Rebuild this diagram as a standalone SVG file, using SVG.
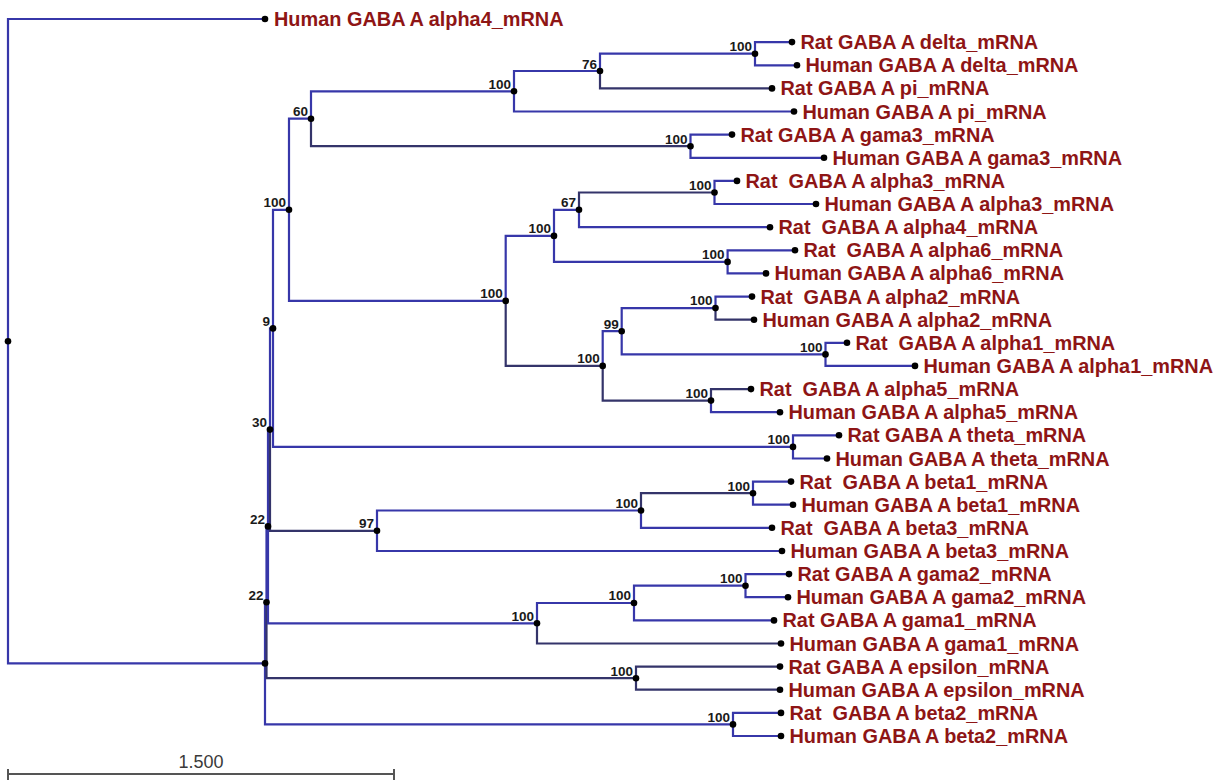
<svg xmlns="http://www.w3.org/2000/svg" width="1220" height="781" viewBox="0 0 1220 781">
<style>
.e{fill:none;stroke:#3737a9;stroke-width:2.2}
.d{fill:none;stroke:#34346a;stroke-width:2.2}
.dot{fill:#000}
.lf{font-family:"Liberation Sans",Arial,sans-serif;font-weight:bold;font-size:19.9px;fill:#8e1515;white-space:pre}
.bs{font-family:"Liberation Sans",Arial,sans-serif;font-weight:bold;font-size:13.5px;fill:#1a1a1a;text-anchor:end}
.sc{font-family:"Liberation Sans",Arial,sans-serif;font-size:18px;fill:#3a3a3a;text-anchor:middle}
</style>
<rect width="1220" height="781" fill="#fff"/>
<g id="connectors">
<path class="e" d="M8 341.2 V19 H265"/>
<path class="e" d="M8 341.2 V663.4 H265"/>
<path class="e" d="M265 663.4 V602.3 H266.5"/>
<path class="e" d="M265 663.4 V724.4 H733"/>
<path class="e" d="M266.5 602.3 V526.4 H268"/>
<path class="d" d="M266.5 602.3 V678.2 H636"/>
<path class="e" d="M268 526.4 V429.6 H270"/>
<path class="e" d="M268 526.4 V623.3 H537"/>
<path class="e" d="M270 429.6 V328.4 H273"/>
<path class="d" d="M270 429.6 V530.8 H377"/>
<path class="e" d="M273 328.4 V209.8 H289"/>
<path class="e" d="M273 328.4 V446.9 H793"/>
<path class="e" d="M289 209.8 V118.7 H311"/>
<path class="e" d="M289 209.8 V300.9 H505.7"/>
<path class="e" d="M311 118.7 V91.3 H514"/>
<path class="d" d="M311 118.7 V146.2 H690.5"/>
<path class="e" d="M514 91.3 V71 H600"/>
<path class="e" d="M514 91.3 V111.5 H794"/>
<path class="e" d="M600 71 V53.7 H755"/>
<path class="d" d="M600 71 V88.4 H772"/>
<path class="e" d="M755 53.7 V42.1 H792"/>
<path class="e" d="M755 53.7 V65.3 H797"/>
<path class="e" d="M690.5 146.2 V134.6 H732"/>
<path class="e" d="M690.5 146.2 V157.8 H824"/>
<path class="e" d="M505.7 300.9 V235.9 H554"/>
<path class="d" d="M505.7 300.9 V365.9 H602.7"/>
<path class="e" d="M554 235.9 V209.8 H579"/>
<path class="e" d="M554 235.9 V261.9 H727.6"/>
<path class="d" d="M579 209.8 V192.5 H714.5"/>
<path class="e" d="M579 209.8 V227.2 H770"/>
<path class="e" d="M714.5 192.5 V180.9 H737"/>
<path class="e" d="M714.5 192.5 V204 H816"/>
<path class="e" d="M727.6 261.9 V250.3 H795"/>
<path class="e" d="M727.6 261.9 V273.4 H766"/>
<path class="e" d="M602.7 365.9 V331.2 H621.7"/>
<path class="d" d="M602.7 365.9 V400.6 H711"/>
<path class="e" d="M621.7 331.2 V308.1 H715.5"/>
<path class="e" d="M621.7 331.2 V354.4 H825.5"/>
<path class="e" d="M715.5 308.1 V296.6 H752"/>
<path class="d" d="M715.5 308.1 V319.7 H754"/>
<path class="e" d="M825.5 354.4 V342.8 H847"/>
<path class="e" d="M825.5 354.4 V365.9 H915"/>
<path class="d" d="M711 400.6 V389.1 H751"/>
<path class="e" d="M711 400.6 V412.2 H780"/>
<path class="e" d="M793 446.9 V435.3 H839"/>
<path class="e" d="M793 446.9 V458.5 H827"/>
<path class="e" d="M377 530.8 V510.5 H641"/>
<path class="e" d="M377 530.8 V551 H782"/>
<path class="d" d="M641 510.5 V493.2 H753"/>
<path class="e" d="M641 510.5 V527.8 H772"/>
<path class="e" d="M753 493.2 V481.6 H791"/>
<path class="e" d="M753 493.2 V504.7 H793"/>
<path class="e" d="M537 623.3 V603 H634"/>
<path class="d" d="M537 623.3 V643.5 H781"/>
<path class="e" d="M634 603 V585.7 H745.5"/>
<path class="e" d="M634 603 V620.4 H774"/>
<path class="e" d="M745.5 585.7 V574.1 H789"/>
<path class="e" d="M745.5 585.7 V597.2 H788"/>
<path class="d" d="M636 678.2 V666.6 H780"/>
<path class="d" d="M636 678.2 V689.7 H780"/>
<path class="e" d="M733 724.4 V712.9 H781"/>
<path class="e" d="M733 724.4 V736 H781"/>
</g>
<g id="internal-nodes">
<g id="root"><circle class="dot" cx="8" cy="341.2" r="3.3"/></g>
<g id="nX"><circle class="dot" cx="265" cy="663.4" r="3.3"/></g>
<g id="n22b"><circle class="dot" cx="266.5" cy="602.3" r="3.3"/><text class="bs" x="263.5" y="599.5">22</text></g>
<g id="n22a"><circle class="dot" cx="268" cy="526.4" r="3.3"/><text class="bs" x="265" y="523.5">22</text></g>
<g id="n30"><circle class="dot" cx="270" cy="429.6" r="3.3"/><text class="bs" x="267" y="426.5">30</text></g>
<g id="n9"><circle class="dot" cx="273" cy="328.4" r="3.3"/><text class="bs" x="270" y="325.5">9</text></g>
<g id="nUp"><circle class="dot" cx="289" cy="209.8" r="3.3"/><text class="bs" x="286" y="207">100</text></g>
<g id="n60"><circle class="dot" cx="311" cy="118.7" r="3.3"/><text class="bs" x="308" y="116">60</text></g>
<g id="nPi"><circle class="dot" cx="514" cy="91.3" r="3.3"/><text class="bs" x="511" y="88.5">100</text></g>
<g id="n76"><circle class="dot" cx="600" cy="71" r="3.3"/><text class="bs" x="597" y="68.5">76</text></g>
<g id="nDelta"><circle class="dot" cx="755" cy="53.7" r="3.3"/><text class="bs" x="752" y="51">100</text></g>
<g id="nGama3"><circle class="dot" cx="690.5" cy="146.2" r="3.3"/><text class="bs" x="687.5" y="143.5">100</text></g>
<g id="nAlpha"><circle class="dot" cx="505.7" cy="300.9" r="3.3"/><text class="bs" x="502.7" y="298">100</text></g>
<g id="nA346"><circle class="dot" cx="554" cy="235.9" r="3.3"/><text class="bs" x="551" y="233">100</text></g>
<g id="n67"><circle class="dot" cx="579" cy="209.8" r="3.3"/><text class="bs" x="576" y="207">67</text></g>
<g id="nA3"><circle class="dot" cx="714.5" cy="192.5" r="3.3"/><text class="bs" x="711.5" y="189.5">100</text></g>
<g id="nA6"><circle class="dot" cx="727.6" cy="261.9" r="3.3"/><text class="bs" x="724.6" y="259">100</text></g>
<g id="nA125"><circle class="dot" cx="602.7" cy="365.9" r="3.3"/><text class="bs" x="599.7" y="363">100</text></g>
<g id="n99"><circle class="dot" cx="621.7" cy="331.2" r="3.3"/><text class="bs" x="618.7" y="328.5">99</text></g>
<g id="nA2"><circle class="dot" cx="715.5" cy="308.1" r="3.3"/><text class="bs" x="712.5" y="305">100</text></g>
<g id="nA1"><circle class="dot" cx="825.5" cy="354.4" r="3.3"/><text class="bs" x="822.5" y="351.5">100</text></g>
<g id="nA5"><circle class="dot" cx="711" cy="400.6" r="3.3"/><text class="bs" x="708" y="397.5">100</text></g>
<g id="nTheta"><circle class="dot" cx="793" cy="446.9" r="3.3"/><text class="bs" x="790" y="444">100</text></g>
<g id="n97"><circle class="dot" cx="377" cy="530.8" r="3.3"/><text class="bs" x="374" y="528">97</text></g>
<g id="nB13"><circle class="dot" cx="641" cy="510.5" r="3.3"/><text class="bs" x="638" y="507.5">100</text></g>
<g id="nB1"><circle class="dot" cx="753" cy="493.2" r="3.3"/><text class="bs" x="750" y="490.5">100</text></g>
<g id="nG"><circle class="dot" cx="537" cy="623.3" r="3.3"/><text class="bs" x="534" y="620.5">100</text></g>
<g id="nG21"><circle class="dot" cx="634" cy="603" r="3.3"/><text class="bs" x="631" y="600">100</text></g>
<g id="nG2"><circle class="dot" cx="745.5" cy="585.7" r="3.3"/><text class="bs" x="742.5" y="583">100</text></g>
<g id="nEps"><circle class="dot" cx="636" cy="678.2" r="3.3"/><text class="bs" x="633" y="675.5">100</text></g>
<g id="nB2"><circle class="dot" cx="733" cy="724.4" r="3.3"/><text class="bs" x="730" y="721.5">100</text></g>
</g>
<g id="leaves">
<g id="L1"><circle class="dot" cx="265" cy="19" r="3.3"/><text class="lf" x="274" y="26">Human GABA A alpha4_mRNA</text></g>
<g id="L2"><circle class="dot" cx="792" cy="42.1" r="3.3"/><text class="lf" x="800.5" y="49.1">Rat GABA A delta_mRNA</text></g>
<g id="L3"><circle class="dot" cx="797" cy="65.3" r="3.3"/><text class="lf" x="805.5" y="72.3">Human GABA A delta_mRNA</text></g>
<g id="L4"><circle class="dot" cx="772" cy="88.4" r="3.3"/><text class="lf" x="780.5" y="95.4">Rat GABA A pi_mRNA</text></g>
<g id="L5"><circle class="dot" cx="794" cy="111.5" r="3.3"/><text class="lf" x="802.5" y="118.5">Human GABA A pi_mRNA</text></g>
<g id="L6"><circle class="dot" cx="732" cy="134.6" r="3.3"/><text class="lf" x="740.5" y="141.6">Rat GABA A gama3_mRNA</text></g>
<g id="L7"><circle class="dot" cx="824" cy="157.8" r="3.3"/><text class="lf" x="832.5" y="164.8">Human GABA A gama3_mRNA</text></g>
<g id="L8"><circle class="dot" cx="737" cy="180.9" r="3.3"/><text class="lf" x="745.5" y="187.9">Rat  GABA A alpha3_mRNA</text></g>
<g id="L9"><circle class="dot" cx="816" cy="204" r="3.3"/><text class="lf" x="824.5" y="211">Human GABA A alpha3_mRNA</text></g>
<g id="L10"><circle class="dot" cx="770" cy="227.2" r="3.3"/><text class="lf" x="778.5" y="234.2">Rat  GABA A alpha4_mRNA</text></g>
<g id="L11"><circle class="dot" cx="795" cy="250.3" r="3.3"/><text class="lf" x="803.5" y="257.3">Rat  GABA A alpha6_mRNA</text></g>
<g id="L12"><circle class="dot" cx="766" cy="273.4" r="3.3"/><text class="lf" x="774.5" y="280.4">Human GABA A alpha6_mRNA</text></g>
<g id="L13"><circle class="dot" cx="752" cy="296.6" r="3.3"/><text class="lf" x="760.5" y="303.6">Rat  GABA A alpha2_mRNA</text></g>
<g id="L14"><circle class="dot" cx="754" cy="319.7" r="3.3"/><text class="lf" x="762.5" y="326.7">Human GABA A alpha2_mRNA</text></g>
<g id="L15"><circle class="dot" cx="847" cy="342.8" r="3.3"/><text class="lf" x="855.5" y="349.8">Rat  GABA A alpha1_mRNA</text></g>
<g id="L16"><circle class="dot" cx="915" cy="365.9" r="3.3"/><text class="lf" x="923.5" y="372.9">Human GABA A alpha1_mRNA</text></g>
<g id="L17"><circle class="dot" cx="751" cy="389.1" r="3.3"/><text class="lf" x="759.5" y="396.1">Rat  GABA A alpha5_mRNA</text></g>
<g id="L18"><circle class="dot" cx="780" cy="412.2" r="3.3"/><text class="lf" x="788.5" y="419.2">Human GABA A alpha5_mRNA</text></g>
<g id="L19"><circle class="dot" cx="839" cy="435.3" r="3.3"/><text class="lf" x="847.5" y="442.3">Rat GABA A theta_mRNA</text></g>
<g id="L20"><circle class="dot" cx="827" cy="458.5" r="3.3"/><text class="lf" x="835.5" y="465.5">Human GABA A theta_mRNA</text></g>
<g id="L21"><circle class="dot" cx="791" cy="481.6" r="3.3"/><text class="lf" x="799.5" y="488.6">Rat  GABA A beta1_mRNA</text></g>
<g id="L22"><circle class="dot" cx="793" cy="504.7" r="3.3"/><text class="lf" x="801.5" y="511.7">Human GABA A beta1_mRNA</text></g>
<g id="L23"><circle class="dot" cx="772" cy="527.8" r="3.3"/><text class="lf" x="780.5" y="534.8">Rat  GABA A beta3_mRNA</text></g>
<g id="L24"><circle class="dot" cx="782" cy="551" r="3.3"/><text class="lf" x="790.5" y="558">Human GABA A beta3_mRNA</text></g>
<g id="L25"><circle class="dot" cx="789" cy="574.1" r="3.3"/><text class="lf" x="797.5" y="581.1">Rat GABA A gama2_mRNA</text></g>
<g id="L26"><circle class="dot" cx="788" cy="597.2" r="3.3"/><text class="lf" x="796.5" y="604.2">Human GABA A gama2_mRNA</text></g>
<g id="L27"><circle class="dot" cx="774" cy="620.4" r="3.3"/><text class="lf" x="782.5" y="627.4">Rat GABA A gama1_mRNA</text></g>
<g id="L28"><circle class="dot" cx="781" cy="643.5" r="3.3"/><text class="lf" x="789.5" y="650.5">Human GABA A gama1_mRNA</text></g>
<g id="L29"><circle class="dot" cx="780" cy="666.6" r="3.3"/><text class="lf" x="788.5" y="673.6">Rat GABA A epsilon_mRNA</text></g>
<g id="L30"><circle class="dot" cx="780" cy="689.7" r="3.3"/><text class="lf" x="788.5" y="696.7">Human GABA A epsilon_mRNA</text></g>
<g id="L31"><circle class="dot" cx="781" cy="712.9" r="3.3"/><text class="lf" x="789.5" y="719.9">Rat  GABA A beta2_mRNA</text></g>
<g id="L32"><circle class="dot" cx="781" cy="736" r="3.3"/><text class="lf" x="789.5" y="743">Human GABA A beta2_mRNA</text></g>
</g>
<g id="scale-bar">
<path d="M8 774 H394 M8 769 V780 M394 769 V780" fill="none" stroke="#555" stroke-width="2"/>
<text class="sc" x="201" y="768">1.500</text>
</g>
</svg>
